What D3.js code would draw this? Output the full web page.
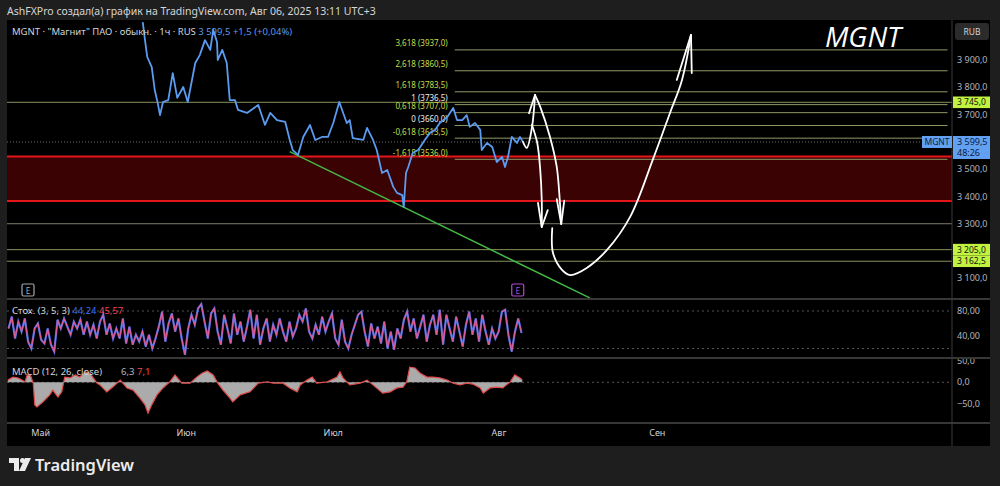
<!DOCTYPE html>
<html>
<head>
<meta charset="utf-8">
<script src="https://cdn.jsdelivr.net/npm/d3@7"></script>
<style>
html, body { margin: 0; padding: 0; background: #1e1e1e; }
svg { display: block; font-family: "Noto Sans", "DejaVu Sans", sans-serif; }
</style>
</head>
<body>
<div id="chart"></div>
<script>
// ---- data (x in trading days from the left edge, y in RUB) ----
const monthLabels = ['Май', 'Июн', 'Июл', 'Авг', 'Сен']
const monthDays = [4.5, 23.9, 43.5, 65.6, 86.7]

const priceTicks = [3100, 3200, 3300, 3400, 3500, 3600, 3700, 3800, 3900]
const stochTicks = [40, 80]
const macdTicks = [-50, 0, 50]

const fibRatios = ['3,618', '2,618', '1,618', '1', '0,618', '0', '-0,618', '-1,618']
const fibPrices = [3937, 3860.5, 3783.5, 3736.5, 3707, 3660, 3613.5, 3536]
const fibWhite = ['1', '0']
const fibStartDay = 59.7
const fibEndDay = 125.4

const levelLines = [3745, 3300, 3205, 3162.5]
const levelTags = [3745, 3205, 3162.5]
const zoneLow = 3383
const zoneHigh = 3546
const lastPrice = 3599.5

const trend = [[37.7, 3564], [77.7, 3028]]

const priceSeries = [
	[18.1, 4039], [18.4, 3973], [18.7, 3911], [19.3, 3874], [19.7, 3790], [20.1, 3742],
	[20.4, 3698], [20.8, 3746], [21.5, 3753], [22.1, 3852], [22.7, 3761], [23.5, 3801],
	[24.1, 3746], [25.1, 3889], [25.7, 3918], [26.4, 3973], [27.1, 3937], [27.5, 4010],
	[28.0, 3966], [28.1, 3900], [28.7, 3937], [29.3, 3889], [29.7, 3753], [30.4, 3753],
	[30.8, 3717], [32.0, 3706], [33.5, 3735], [34.4, 3662], [35.1, 3706], [36.0, 3680],
	[37.1, 3673], [37.7, 3607], [38.1, 3570], [38.8, 3552], [39.5, 3618], [40.4, 3662],
	[41.1, 3607], [42.0, 3618], [42.8, 3618], [43.5, 3669], [44.3, 3746], [45.3, 3669],
	[45.7, 3680], [46.1, 3614], [47.5, 3607], [48.0, 3651], [48.8, 3607], [49.3, 3570],
	[50.0, 3486], [50.7, 3497], [51.5, 3435], [52.0, 3413], [52.7, 3405], [52.9, 3361],
	[53.2, 3486], [53.5, 3508], [54.1, 3559], [54.8, 3570], [55.1, 3581], [55.7, 3607],
	[56.4, 3633], [57.1, 3644], [57.7, 3669], [58.7, 3691], [59.5, 3724], [60.0, 3680],
	[60.7, 3680], [61.3, 3698], [61.7, 3655], [62.4, 3669], [63.1, 3644], [63.3, 3570],
	[64.0, 3596], [64.7, 3581], [65.3, 3526], [66.0, 3545], [66.4, 3508], [66.8, 3545],
	[67.3, 3618], [68.0, 3596], [68.4, 3618], [68.8, 3600],
]

// hand-drawn arrows
const arrowUp = [[68.8, 3600], [69.3, 3578], [70.0, 3654], [70.4, 3772]]
const arrowUpHead = [[69.6, 3705], [70.4, 3772]]
const arrowDownA = [[70.4, 3772], [71.1, 3728], [72.4, 3618], [73.3, 3508], [73.7, 3387], [73.9, 3299]]
const arrowDownAHead = [[73.3, 3390], [73.9, 3299], [74.3, 3385]]
const arrowDownB = [[70.0, 3662], [70.7, 3596], [71.1, 3497], [71.3, 3387], [71.3, 3288]]
const arrowDownBHead = [[70.8, 3376], [71.3, 3288], [72.1, 3350]]
const arrowBig = [
	[72.7, 3284], [72.8, 3193], [74.0, 3131], [75.1, 3112], [77.3, 3138], [80.0, 3204],
	[83.1, 3326], [86.1, 3534], [88.4, 3706], [90.0, 3827], [91.2, 3992],
]
const arrowBigHead = [[89.3, 3827], [91.2, 3992], [91.3, 3852]]

const earningsDays = [2.8, 68.1]

const stochStartDay = 0.2
const stochEndDay = 68.6
const stochK = [
	52, 71, 36, 63, 47, 68, 31, 20, 52, 60, 34, 28, 52, 26, 15, 66, 52, 68, 55, 42,
	63, 52, 66, 42, 63, 42, 58, 36, 63, 74, 42, 60, 36, 52, 36, 68, 28, 55, 26, 42,
	31, 47, 23, 42, 20, 36, 55, 79, 31, 60, 76, 47, 68, 36, 10, 52, 74, 58, 84, 91,
	63, 36, 76, 84, 47, 26, 74, 52, 28, 76, 42, 63, 31, 55, 82, 36, 74, 26, 52, 68,
	31, 58, 42, 68, 47, 31, 63, 39, 52, 74, 63, 84, 47, 36, 58, 42, 71, 47, 63, 76,
	36, 26, 66, 31, 20, 42, 58, 74, 79, 47, 23, 60, 36, 55, 28, 63, 20, 47, 18, 52,
	36, 66, 79, 47, 68, 36, 55, 74, 31, 58, 74, 42, 82, 26, 74, 52, 31, 71, 47, 23,
	58, 79, 42, 68, 31, 74, 47, 26, 52, 36, 47, 79, 82, 42, 15, 47, 68, 45,
]

const macdSeries = [
	[0.1, 5], [0.8, 12], [1.5, 10], [2.4, 1], [2.7, 17], [3.1, 17], [3.5, -2], [3.7, -52],
	[4.0, -57], [4.8, -45], [5.7, -29], [6.1, -18], [6.4, -25], [6.8, -34], [7.3, -22],
	[7.7, 12], [8.4, 10], [9.1, 17], [9.7, 12], [10.4, 24], [11.1, 21], [11.5, 10],
	[12.0, -2], [12.4, -6], [13.3, -22], [14.1, -11], [15.1, 5], [16.0, -13], [16.8, -18],
	[17.7, -36], [18.4, -52], [18.8, -71], [19.3, -52], [20.0, -29], [20.8, -13], [21.7, 1],
	[22.4, 17], [23.3, -2], [24.4, -2], [25.3, 12], [26.0, 21], [26.7, 26], [27.5, 17],
	[28.1, -2], [28.8, -18], [29.7, -36], [30.1, -45], [31.1, -29], [32.4, -22], [33.5, -2],
	[34.7, 1], [35.5, -2], [36.8, -2], [37.7, -13], [38.7, -22], [39.1, -6], [40.0, 5],
	[40.7, 12], [41.3, -2], [42.7, 1], [44.0, 12], [44.4, 24], [44.8, 10], [45.7, -6],
	[47.1, -2], [48.0, 5], [48.8, -6], [50.1, -25], [51.1, -22], [52.0, -13], [52.8, -11],
	[53.3, 1], [53.7, 35], [54.4, 33], [55.1, 21], [56.0, 12], [56.8, 12], [57.7, 10],
	[58.7, 5], [59.5, -2], [60.4, -6], [61.3, -2], [62.1, -4], [63.1, -13], [63.5, -25],
	[64.4, -13], [65.3, -11], [66.1, -13], [67.1, 1], [67.7, 17], [68.4, 10], [68.7, 6],
]

// ---- layout ----
const W = 1000
const H = 486
const PLOT_L = 7
const PLOT_R = 952
const AXIS_R = 990
const MAIN_TOP = 20
const MAIN_BOT = 299
const ST_BOT = 358
const MACD_BOT = 423
const TIME_BOT = 446

const ru = d3.formatLocale({ decimal: ',', thousands: '\u00a0', grouping: [3], currency: ['', ''], minus: '\u2212' })
const fPrice = ru.format(',.1f')
const fFib = ru.format('.1f')
const fStoch = ru.format('.2f')

const x = d3.scaleLinear().domain([0, 126]).range([PLOT_L, PLOT_R])
const y = d3.scaleLinear().domain([3100, 3900]).range([278.3, 60])
const ys = d3.scaleLinear().domain([0, 100]).range([361, 298.5])
const ym = d3.scaleLinear().domain([-50, 0]).range([404, 382.3])
const stochX = d3.scaleLinear().domain([0, stochK.length - 1]).range([stochStartDay, stochEndDay])

const svg = d3.select('#chart').append('svg').attr('width', W).attr('height', H)

svg.append('rect').attr('width', W).attr('height', H).attr('fill', '#1e1e1e')
svg.append('rect')
	.attr('x', PLOT_L).attr('y', MAIN_TOP)
	.attr('width', AXIS_R - PLOT_L).attr('height', TIME_BOT - MAIN_TOP)
	.attr('fill', '#000')

const defs = svg.append('defs')
const clip = (id, top, bot) =>
	defs.append('clipPath').attr('id', id).append('rect')
		.attr('x', PLOT_L).attr('y', top).attr('width', PLOT_R - PLOT_L).attr('height', bot - top)
clip('clip-main', MAIN_TOP, MAIN_BOT)
clip('clip-st', MAIN_BOT + 1, ST_BOT)
clip('clip-macd', ST_BOT + 1, MACD_BOT)
defs.append('clipPath').attr('id', 'clip-maxis').append('rect')
	.attr('x', PLOT_R).attr('y', ST_BOT + 1).attr('width', AXIS_R - PLOT_R).attr('height', MACD_BOT - ST_BOT - 1)

// header
svg.append('text')
	.attr('x', 7).attr('y', 15)
	.attr('fill', '#d6d6d6').attr('font-size', 10.5)
	.text('AshFXPro создал(а) график на TradingView.com, Авг 06, 2025 13:11 UTC+3')

// ---------- main pane ----------
const main = svg.append('g').attr('clip-path', 'url(#clip-main)')

main.append('rect')
	.attr('x', PLOT_L).attr('width', PLOT_R - PLOT_L)
	.attr('y', y(zoneHigh)).attr('height', y(zoneLow) - y(zoneHigh))
	.attr('fill', '#3a0202')

main.selectAll('line.level')
	.data(levelLines)
	.join('line')
	.attr('x1', PLOT_L).attr('x2', PLOT_R)
	.attr('y1', d => y(d)).attr('y2', d => y(d))
	.attr('stroke', d => (d === 3300 ? '#7d7d6a' : '#87935d'))
	.attr('stroke-width', 1)

main.selectAll('line.zone')
	.data([zoneLow, zoneHigh])
	.join('line')
	.attr('x1', PLOT_L).attr('x2', PLOT_R)
	.attr('y1', d => y(d)).attr('y2', d => y(d))
	.attr('stroke', '#e3161b').attr('stroke-width', 2)

// current price dotted line
main.append('line')
	.attr('x1', PLOT_L).attr('x2', PLOT_R)
	.attr('y1', y(lastPrice)).attr('y2', y(lastPrice))
	.attr('stroke', '#6b6b6b').attr('stroke-dasharray', '1,2')

// fib lines
main.selectAll('line.fib')
	.data(fibPrices)
	.join('line')
	.attr('x1', x(fibStartDay)).attr('x2', x(fibEndDay))
	.attr('y1', d => y(d)).attr('y2', d => y(d))
	.attr('stroke', '#8f9966').attr('stroke-width', 1)

main.selectAll('text.fib')
	.data(fibPrices)
	.join('text')
	.attr('x', x(fibStartDay) - 7)
	.attr('y', d => y(d) - 3.5)
	.attr('text-anchor', 'end')
	.attr('font-size', 8)
	.attr('fill', (d, i) => (fibWhite.includes(fibRatios[i]) ? '#ececec' : '#c6dd4a'))
	.text((d, i) => `${fibRatios[i]} (${fFib(d)})`)

// trend line
main.append('path')
	.datum(trend)
	.attr('d', d3.line().x(d => x(d[0])).y(d => y(d[1])))
	.attr('stroke', '#45b845').attr('stroke-width', 1.5).attr('fill', 'none')

// price
main.append('path')
	.datum(priceSeries)
	.attr('d', d3.line().x(d => x(d[0])).y(d => y(d[1])))
	.attr('stroke', '#5b9bf0').attr('stroke-width', 1.8).attr('fill', 'none')
	.attr('stroke-linejoin', 'round')

// arrows
const smooth = d3.line().x(d => x(d[0])).y(d => y(d[1])).curve(d3.curveCatmullRom)
const straight = d3.line().x(d => x(d[0])).y(d => y(d[1]))
;[arrowUp, arrowDownA, arrowDownB, arrowBig].forEach(a =>
	main.append('path').datum(a).attr('d', smooth)
		.attr('stroke', '#fff').attr('stroke-width', 1.8).attr('fill', 'none').attr('stroke-linecap', 'round'))
;[arrowUpHead, arrowDownAHead, arrowDownBHead, arrowBigHead].forEach(a =>
	main.append('path').datum(a).attr('d', straight)
		.attr('stroke', '#fff').attr('stroke-width', 1.8).attr('fill', 'none')
		.attr('stroke-linecap', 'round').attr('stroke-linejoin', 'round'))

// earnings markers
const eColors = ['#a3a6ad', '#b24ad0']
const eg = svg.selectAll('g.earn').data(earningsDays).join('g')
eg.append('rect')
	.attr('x', d => x(d) - 6).attr('y', 284).attr('width', 12).attr('height', 12).attr('rx', 1.5)
	.attr('fill', '#000').attr('stroke', (d, i) => eColors[i]).attr('stroke-width', 1.2)
eg.append('text')
	.attr('x', d => x(d)).attr('y', 293.5).attr('text-anchor', 'middle')
	.attr('font-size', 8.5).attr('fill', (d, i) => eColors[i])
	.text('E')

// big label
svg.append('text')
	.attr('x', 863).attr('y', 47).attr('text-anchor', 'middle')
	.attr('font-family', '"Open Sans", sans-serif').attr('font-style', 'italic')
	.attr('font-size', 28).attr('fill', '#fff')
	.text('MGNT')

// legend
const leg = svg.append('text').attr('x', 12).attr('y', 34.5).attr('font-size', 9.5)
leg.append('tspan').attr('fill', '#d1d4dc').text('MGNT · "Магнит" ПАО · обыкн. · 1ч · RUS ')
leg.append('tspan').attr('fill', '#5b9bf0').text(' ' + fPrice(lastPrice) + ' +1,5 (+0,04%)')

// ---------- stochastic pane ----------
const st = svg.append('g').attr('clip-path', 'url(#clip-st)')
st.selectAll('line.band')
	.data([20, 80])
	.join('line')
	.attr('x1', PLOT_L).attr('x2', PLOT_R)
	.attr('y1', d => ys(d)).attr('y2', d => ys(d))
	.attr('stroke', '#555').attr('stroke-dasharray', '2,3')
const stLine = d3.line().x((d, i) => x(stochX(i))).y(d => ys(d))
st.append('path').datum(stochK).attr('d', stLine)
	.attr('stroke', '#3e6ef0').attr('stroke-width', 2.2).attr('fill', 'none')
st.append('path').datum(stochK).attr('d', stLine)
	.attr('stroke', '#e45b8e').attr('stroke-width', 1.1).attr('fill', 'none')

const stLeg = svg.append('text').attr('x', 12).attr('y', 314).attr('font-size', 9.5)
stLeg.append('tspan').attr('fill', '#d1d4dc').text('Стох. (3, 5, 3) ')
stLeg.append('tspan').attr('fill', '#3e6ef0').text(' 44,24 ')
stLeg.append('tspan').attr('fill', '#f0455a').text(' 45,57')

// ---------- MACD pane ----------
const mc = svg.append('g').attr('clip-path', 'url(#clip-macd)')
mc.append('line')
	.attr('x1', PLOT_L).attr('x2', PLOT_R)
	.attr('y1', ym(0)).attr('y2', ym(0))
	.attr('stroke', '#555').attr('stroke-dasharray', '2,3')
mc.append('path').datum(macdSeries)
	.attr('d', d3.area().x(d => x(d[0])).y0(ym(0)).y1(d => ym(d[1])))
	.attr('fill', '#ababab')
mc.append('path').datum(macdSeries)
	.attr('d', d3.line().x(d => x(d[0])).y(d => ym(d[1])))
	.attr('stroke', '#e04a4a').attr('stroke-width', 1.2).attr('fill', 'none')

const mLeg = svg.append('text').attr('x', 12).attr('y', 374.5).attr('font-size', 9.5)
mLeg.append('tspan').attr('fill', '#d1d4dc').text('MACD (12, 26, close)')
mLeg.append('tspan').attr('x', 121).attr('fill', '#b2b5be').text('6,3')
mLeg.append('tspan').attr('x', 137).attr('fill', '#f0455a').text('7,1')

// ---------- separators ----------
svg.selectAll('line.sep')
	.data([MAIN_BOT, ST_BOT, MACD_BOT])
	.join('line')
	.attr('x1', PLOT_L).attr('x2', AXIS_R)
	.attr('y1', d => d).attr('y2', d => d)
	.attr('stroke', '#4a4a4a').attr('stroke-width', 1.5)
svg.append('line')
	.attr('x1', PLOT_R).attr('x2', PLOT_R).attr('y1', MAIN_TOP).attr('y2', TIME_BOT)
	.attr('stroke', '#3a3a3a')

// ---------- right axes ----------
const axisText = (sel) => sel.attr('x', 957).attr('font-size', 9).attr('fill', '#b2b5be').attr('dy', '0.35em')

// labels hidden behind the price tags are skipped, as the terminal does
const tagYs = levelTags.map(y).concat([y(lastPrice) + 5])
const visibleTicks = priceTicks.filter(t => tagYs.every(ty => Math.abs(y(t) - ty) > 9))

svg.append('g').selectAll('text')
	.data(visibleTicks)
	.join('text')
	.attr('y', d => y(d))
	.call(axisText)
	.text(d => fPrice(d))

svg.append('g').selectAll('text')
	.data(stochTicks)
	.join('text')
	.attr('y', d => ys(d))
	.call(axisText)
	.text(d => fStoch(d))

svg.append('g').attr('clip-path', 'url(#clip-maxis)').selectAll('text')
	.data(macdTicks)
	.join('text')
	.attr('y', d => ym(d))
	.call(axisText)
	.text(d => fFib(d))

// currency box
svg.append('rect').attr('x', 955).attr('y', 23).attr('width', 34).attr('height', 17).attr('rx', 3).attr('fill', '#2b2b2b')
svg.append('text').attr('x', 972).attr('y', 34.5).attr('text-anchor', 'middle').attr('font-size', 8.5).attr('fill', '#d1d4dc').text('RUB')

// level tags
const tags = svg.selectAll('g.tag').data(levelTags).join('g')
tags.append('rect')
	.attr('x', 953).attr('y', d => y(d) - 5.8).attr('width', 37).attr('height', 11.6)
	.attr('fill', '#c0f23f')
tags.append('text')
	.attr('x', 957).attr('y', d => y(d)).attr('dy', '0.35em')
	.attr('font-size', 8.5).attr('fill', '#111')
	.text(d => fPrice(d))

// last price tag
const ly = y(lastPrice)
svg.append('rect').attr('x', 953).attr('y', ly - 6).attr('width', 37).attr('height', 23).attr('fill', '#62a0f2')
svg.append('text').attr('x', 957).attr('y', ly).attr('dy', '0.35em').attr('font-size', 9).attr('fill', '#0b1d3d').text(fPrice(lastPrice))
svg.append('text').attr('x', 957).attr('y', ly + 11).attr('dy', '0.35em').attr('font-size', 9).attr('fill', '#0b1d3d').text('48:26')
svg.append('rect').attr('x', 922).attr('y', ly - 6).attr('width', 30).attr('height', 12).attr('fill', '#62a0f2')
svg.append('text').attr('x', 937).attr('y', ly).attr('dy', '0.35em').attr('text-anchor', 'middle').attr('font-size', 8.5).attr('fill', '#0b1d3d').text('MGNT')

// ---------- time axis ----------
svg.append('g').selectAll('text')
	.data(monthDays)
	.join('text')
	.attr('x', d => x(d)).attr('y', 435.5)
	.attr('text-anchor', 'middle').attr('font-size', 9).attr('fill', '#d1d4dc')
	.text((d, i) => monthLabels[i])

// ---------- footer logo ----------
const logo = svg.append('g').attr('fill', '#ececec')
logo.append('path').attr('d', 'M9,458 H19 V471 H14 V463 H9 Z')
logo.append('circle').attr('cx', 22.5).attr('cy', 460.5).attr('r', 2.5)
logo.append('path').attr('d', 'M25,458 H31 L25,471 H19 Z')
svg.append('text')
	.attr('x', 35).attr('y', 470.5)
	.attr('font-size', 16.5).attr('font-weight', 600).attr('fill', '#ececec')
	.text('TradingView')
</script>
</body>
</html>
